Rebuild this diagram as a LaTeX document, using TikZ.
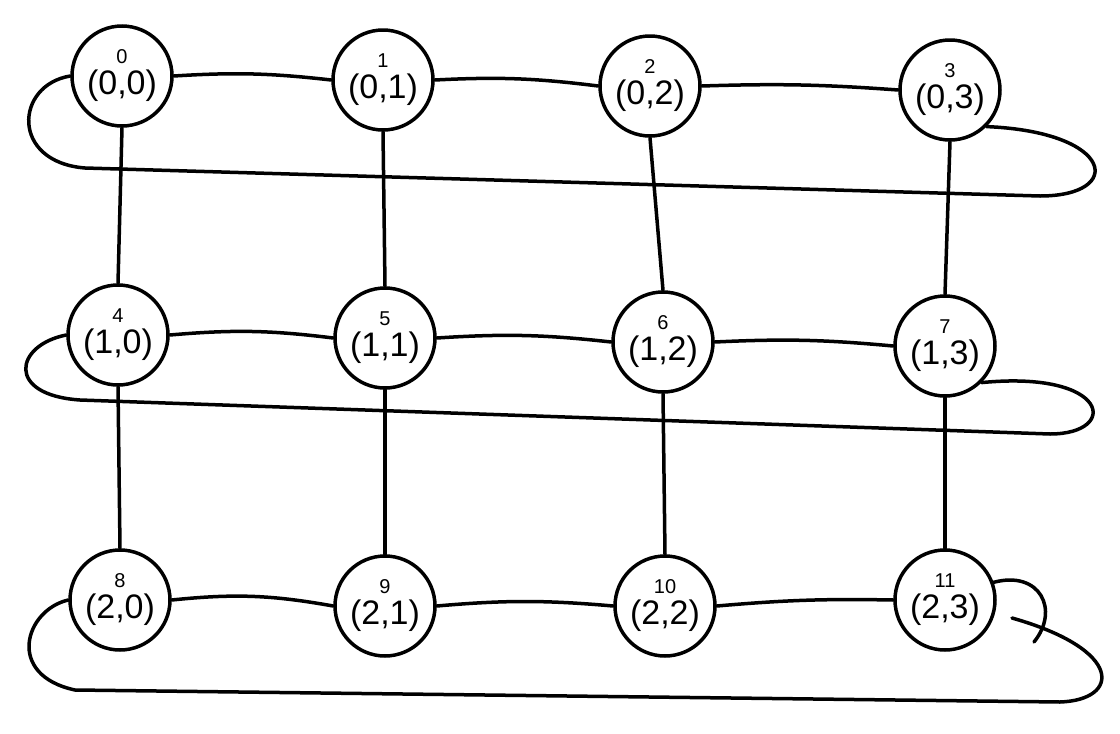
\documentclass[tikz,border=0pt]{standalone}
\usepackage{fontspec}
\setmainfont{Liberation Sans}
\begin{document}
\begin{tikzpicture}[x=1pt,y=-1pt,
  vert/.style={circle,draw,line width=3.5pt,minimum size=100pt,inner sep=0pt,align=center,font=\fontsize{34}{31}\selectfont},
  edge/.style={line width=3.5pt,line cap=round}]
\useasboundingbox (0,0) rectangle (1120,734);
\def\lab#1#2{{\fontsize{20}{20}\selectfont #1}\\(#2)}
\node[vert] (n0) at (122,76) {\lab{0}{0,0}};
\node[vert] (n1) at (383,80) {\lab{1}{0,1}};
\node[vert] (n2) at (650,86) {\lab{2}{0,2}};
\node[vert] (n3) at (950,90) {\lab{3}{0,3}};
\node[vert] (n4) at (118,335) {\lab{4}{1,0}};
\node[vert] (n5) at (385,338) {\lab{5}{1,1}};
\node[vert] (n6) at (663,342) {\lab{6}{1,2}};
\node[vert] (n7) at (945,346) {\lab{7}{1,3}};
\node[vert] (n8) at (120,600) {\lab{8}{2,0}};
\node[vert] (n9) at (385,606) {\lab{9}{2,1}};
\node[vert] (n10) at (665,606) {\lab{10}{2,2}};
\node[vert] (n11) at (945,600) {\lab{11}{2,3}};
% horizontal edges
\draw[edge] (n0.east) to[bend left=5] (n1.west);
\draw[edge] (n1.east) to[bend left=5] (n2.west);
\draw[edge] (n2.east) to[bend left=3] (n3.west);
\draw[edge] (n4.east) to[bend left=6] (n5.west);
\draw[edge] (n5.east) to[bend left=5] (n6.west);
\draw[edge] (n6.east) to[bend left=4] (n7.west);
\draw[edge] (n8.east) to[bend left=8] (n9.west);
\draw[edge] (n9.east) to[bend left=5] (n10.west);
\draw[edge] (n10.east) to[bend left=3] (n11.west);
% vertical edges
\draw[edge] (n0.south) -- (n4.north);
\draw[edge] (n1.south) -- (n5.north);
\draw[edge] (n2.south) -- (n6.north);
\draw[edge] (n3.south) -- (n7.north);
\draw[edge] (n4.south) -- (n8.north);
\draw[edge] (n5.south) -- (n9.north);
\draw[edge] (n6.south) -- (n10.north);
\draw[edge] (n7.south) -- (n11.north);
% wrap-around loops
\coordinate (r0a) at (85,168);
\coordinate (r0b) at (1040,196);
\draw[edge] (n0.west) .. controls (15,85) and (10,162) .. (r0a) -- (r0b) .. controls (1125,196) and (1115,132) .. (n3.south east);
\coordinate (r1a) at (80,400);
\coordinate (r1b) at (1050,434);
\draw[edge] (n4.west) .. controls (15,345) and (5,395) .. (r1a) -- (r1b) .. controls (1120,434) and (1110,370) .. (n7.south east);
\coordinate (r2a) at (75,690);
\coordinate (r2b) at (1060,702);
\coordinate (r2c) at (1012,618);
\draw[edge] (n8.west) .. controls (25,610) and (5,675) .. (r2a) -- (r2b) .. controls (1120,700) and (1125,650) .. (r2c);
\coordinate (r2d) at (1034,642);
\draw[edge] (n11.20) .. controls (1040,570) and (1060,610) .. (r2d);
\end{tikzpicture}
\end{document}
